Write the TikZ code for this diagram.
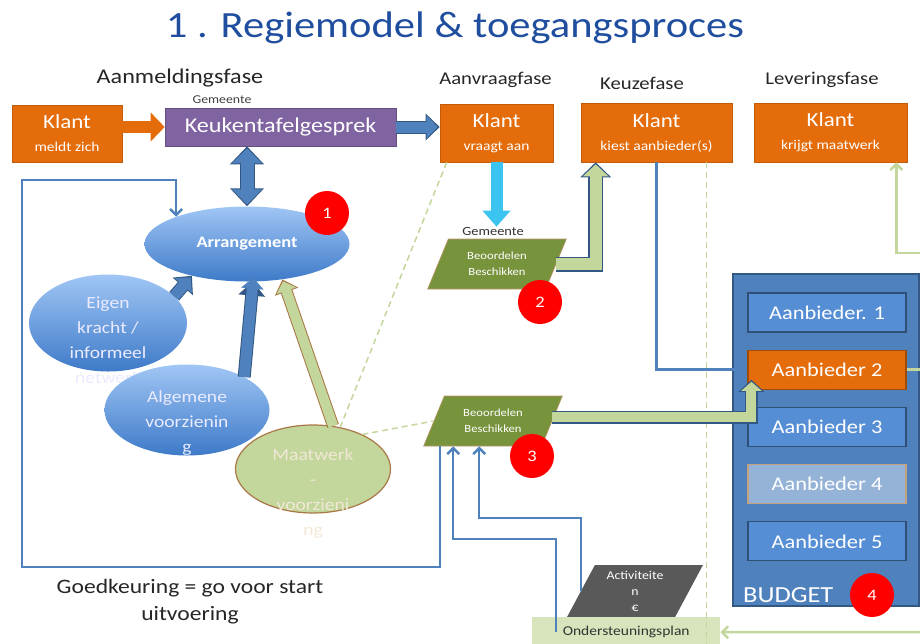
\documentclass[tikz,border=0pt]{standalone}
\usepackage{fontspec}
\setmainfont{Carlito}[FakeStretch=1.15]
\usetikzlibrary{shapes, arrows.meta, positioning, calc}

\definecolor{titleblue}{RGB}{31,78,159}
\definecolor{klantorange}{RGB}{228,108,10}
\definecolor{kgpurple}{RGB}{128,100,162}
\definecolor{arrowblue}{RGB}{79,129,189}
\definecolor{edgeblue}{RGB}{52,88,132}
\definecolor{skyblue}{RGB}{60,196,240}
\definecolor{paleolive}{RGB}{195,214,155}
\definecolor{olive}{RGB}{119,147,60}
\definecolor{ondgreen}{RGB}{215,228,188}
\definecolor{brownedge}{RGB}{170,120,70}
\definecolor{aanblue}{RGB}{85,142,213}
\definecolor{aanpale}{RGB}{149,179,215}
\definecolor{actgray}{RGB}{89,89,89}
\definecolor{ballred}{RGB}{255,0,0}
\definecolor{blobtop}{RGB}{160,198,245}
\definecolor{blobbot}{RGB}{62,122,200}
\definecolor{pale}{RGB}{242,232,215}

\newcommand{\fs}[2]{\fontsize{#1}{#2}\selectfont}
\newcommand{\klanttekst}[1]{{\fs{20}{24}Klant}\\#1}

\tikzset{
  titel/.style={text=titleblue, font=\fs{37}{40}, inner sep=0pt},
  fase/.style={text=black!85, font=\fs{18}{20}, inner sep=0pt},
  klein/.style={text=black!75, font=\fs{12}{14}, inner sep=0pt},
  klant/.style={fill=klantorange, draw=klantorange!85!black, line width=0.6pt, text=white,
    align=center, inner sep=0pt, font=\fs{13.5}{23}},
  blob/.style={ellipse, top color=blobtop, bottom color=blobbot, inner sep=0pt},
  etext/.style={text=white!92!blue, align=center, font=\fs{17}{25}, inner sep=0pt},
  beslis/.style={trapezium, trapezium left angle=62, trapezium right angle=118,
    trapezium stretches=true, fill=olive, draw=brownedge!80, line width=0.6pt,
    minimum width=140pt, minimum height=50pt, text=white!92, align=center,
    font=\fs{11}{16}, inner sep=0pt},
  badge/.style={circle, fill=ballred, text=white, minimum size=44pt, inner sep=0pt,
    font=\fs{16}{18}},
  aanb/.style={fill=aanblue, draw=edgeblue!90!black, line width=1.2pt, text=white!95,
    minimum width=158pt, minimum height=39pt, inner sep=0pt, font=\fs{19.5}{22}},
  % dikke pijlen
  bluefat/.style={draw=arrowblue, line width=11pt, shorten >=2pt,
    -{Triangle[length=11pt,width=22pt]},
    preaction={draw=edgeblue, line width=13pt, shorten >=0pt, -{Triangle[length=14pt,width=26pt]}}},
  dblfat/.style={draw=arrowblue, line width=13pt, shorten >=2pt, shorten <=2pt,
    {Triangle[length=15pt,width=29pt]}-{Triangle[length=15pt,width=29pt]},
    preaction={draw=edgeblue, line width=15pt, shorten >=0pt, shorten <=0pt,
      {Triangle[length=18pt,width=33pt]}-{Triangle[length=18pt,width=33pt]}}},
  orangefat/.style={draw=klantorange, line width=12pt, -{Triangle[length=14pt,width=28pt]}},
  skyfat/.style={draw=skyblue, line width=12pt, -{Triangle[length=16pt,width=27pt]}},
  greenfat/.style={draw=paleolive, line width=12pt, shorten >=2pt, line join=miter,
    -{Triangle[length=12pt,width=25pt]},
    preaction={draw=edgeblue, line width=15pt, shorten >=0pt, -{Triangle[length=15pt,width=30pt]}}},
  greensmall/.style={draw=paleolive, line width=10pt, shorten >=2pt, line join=miter,
    -{Triangle[length=9pt,width=20pt]},
    preaction={draw=edgeblue, line width=13pt, shorten >=0pt, -{Triangle[length=12pt,width=25pt]}}},
  mtfat/.style={draw=paleolive, line width=10pt, shorten >=2pt,
    -{Triangle[length=10pt,width=20pt]},
    preaction={draw=brownedge, line width=12pt, shorten >=0pt, -{Triangle[length=13pt,width=24pt]}}},
  % dunne lijnen
  loopline/.style={draw=arrowblue, line width=2.5pt, line join=miter,
    -{Straight Barb[length=6pt,width=12pt]}},
  greenline/.style={draw=paleolive, line width=2.5pt, line join=miter,
    -{Straight Barb[length=6pt,width=12pt]}},
  stippel/.style={draw=paleolive, line width=1.5pt, dash pattern=on 6pt off 4pt},
}

\begin{document}
\begin{tikzpicture}[x=1pt, y=-1pt]
\useasboundingbox (0,0) rectangle (920,643);

\node[titel] (ttl) at (455,28) {1 . Regiemodel \& toegangsproces};

% fases
\node[fase, font=\fs{21}{24}] (f1) at (180,78) {Aanmeldingsfase};
\node[fase] (f2) at (495.5,80) {Aanvraagfase};
\node[fase] (f3) at (642,83) {Keuzefase};
\node[fase] (f4) at (822,80) {Leveringsfase};
\node[klein] (gem1) at (222,100) {Gemeente};

% bovenste rij
\node[klant, minimum width=110pt, minimum height=57pt] (km) at (67,133.5) {\klanttekst{meldt zich}};
\node[fill=kgpurple, draw=kgpurple!80!black, line width=0.6pt, text=white!92, font=\fs{21}{24},
  minimum width=231pt, minimum height=38pt, inner sep=0pt] (kg) at (280.5,127) {Keukentafelgesprek};
\node[klant, minimum width=113pt, minimum height=58pt] (kv) at (496.5,133) {\klanttekst{vraagt aan}};
\node[klant, minimum width=151pt, minimum height=59pt] (kz) at (656.5,132.5) {\klanttekst{kiest aanbieder(s)}};
\node[klant, minimum width=153pt, minimum height=59pt] (kl) at (830.5,132.5) {\klanttekst{krijgt maatwerk}};

% ellipsen
\node[blob, minimum width=158pt, minimum height=97pt,
  label={[etext, yshift=-17pt]center:{Eigen\\kracht /\\informeel\\netwerk}}] (eig) at (108,323) {};
\node[blob, minimum width=165pt, minimum height=91pt,
  label={[etext, yshift=-13pt]center:{Algemene\\voorzienin\\g}}] (alg) at (187,410) {};
\node[blob, minimum width=205pt, minimum height=75pt, text=white, font=\bfseries\fs{16}{18}] (arr) at (247,244) {Arrangement};
\node[ellipse, fill=paleolive, draw=brownedge, line width=1.2pt, minimum width=155pt,
  minimum height=88pt, inner sep=0pt,
  label={[etext, text=pale, yshift=-25pt]center:{Maatwerk\\-\\voorzieni\\ng}}] (mt) at (313,469) {};

% stippellijnen
\draw[stippel] ([xshift=7pt]kv.south west) -- (mt.57);

% beoordelen
\node[klein, text=black!80, font=\fs{12.5}{14}] (gem2) at (493,231) {Gemeente};
\node[beslis] (bb2) at (497,264) {Beoordelen\\Beschikken};
\node[beslis] (bb3) at (493,421) {Beoordelen\\Beschikken};
\draw[stippel] (mt.35) -- (bb3.west);

% budget
\node[fill=arrowblue, draw=edgeblue, line width=1.5pt, anchor=north west,
  minimum width=186pt, minimum height=332pt, inner sep=0pt] (bud) at (732,273) {};
\node[aanb] (a1) at (827,312.5) {Aanbieder. 1};
\node[aanb, fill=klantorange, draw=klantorange!70!black, below=17pt of a1] (a2) {Aanbieder 2};
\node[aanb, below=17pt of a2] (a3) {Aanbieder 3};
\node[aanb, fill=aanpale, draw=brownedge!70, below=17pt of a3] (a4) {Aanbieder 4};
\node[aanb, below=17pt of a4] (a5) {Aanbieder 5};
\node[text=white, font=\fs{23}{26}, anchor=west, inner sep=0pt] (budtxt) at (743,595) {BUDGET};

% onderkant
\node[trapezium, trapezium left angle=64, trapezium right angle=116, trapezium stretches=true,
  fill=actgray, minimum width=136pt, minimum height=52pt, inner sep=0pt, align=center,
  text=white!85, font=\fs{12}{16}] (act) at (635,591) {Activiteite\\n\\€};
\node[fill=ondgreen, anchor=north west, minimum width=188pt, minimum height=30pt,
  inner sep=0pt, text=black!80, font=\fs{13.5}{16}] (ond) at (532,617) {Ondersteuningsplan};
\node[align=center, font=\fs{20.5}{27}, text=black!85, inner sep=0pt] (goed) at (190,602)
  {Goedkeuring = go voor start\\uitvoering};

\coordinate (kzd) at ([xshift=-26pt]kz.south east);
\draw[stippel] (kzd) -- (kzd |- ond.south);

% dikke pijlen
\draw[orangefat] (km.east |- kg.west) -- (kg.west);
\draw[bluefat] (kg.east) -- (kg.east -| kv.west);
\draw[dblfat] (arr.north |- kg.south) -- (arr.north);
\draw[skyfat] (kv.south) -- (kv.south |- gem2.north);
\draw[bluefat] (eig.22) -- (arr.210);
\draw[bluefat, shorten >=-4pt] (alg.30) -- (arr.-81);
\draw[mtfat] (mt.65) -- (arr.-45);
\draw[greenfat] (bb2.east) -| ([xshift=15pt]kz.south west);
\draw[greensmall] ([yshift=4pt]bb3.east) -| ([xshift=4pt,yshift=10pt]a2.south west);

% dunne lijnen
\coordinate (lpb) at (22,567);
\coordinate (lpt) at (22,180);
\draw[loopline] ([xshift=17pt]bb3.bottom left corner) |- (lpb) -- (lpt) -| (arr.159);
\draw[loopline] ([xshift=24pt]ond.west) -- ++(0,-93) -| ([xshift=30pt]bb3.bottom left corner);
\draw[loopline] (act.west) -- ++(0,-73) -| ([xshift=56pt]bb3.bottom left corner);
\draw[draw=arrowblue, line width=2.5pt, -{Triangle[length=8pt,width=10pt]}] (kz.south) |- (a2.west);

\coordinate (rand1) at (930,253);
\coordinate (rand2) at (930,632);
\coordinate (kld) at ([xshift=-11pt]kl.south east);
\draw[greenline] (a2.east) -| (rand1) -| (kld);
\draw[greenline] (rand2) -- (ond.east);

% nummers
\node[badge] (n1) at (327,213) {1};
\node[badge] (n2) at (540,302) {2};
\node[badge] (n3) at (532,456) {3};
\node[badge] (n4) at (872,595) {4};
\end{tikzpicture}
\end{document}
